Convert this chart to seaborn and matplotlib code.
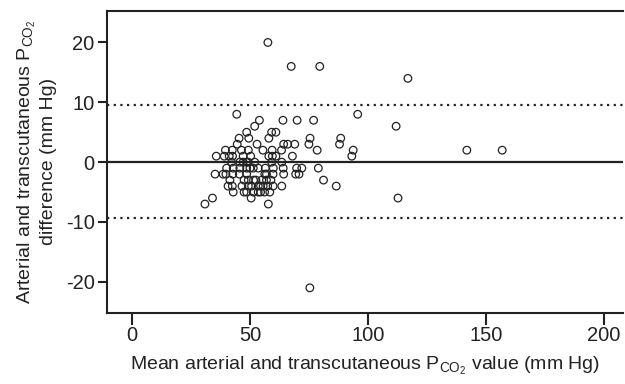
import matplotlib
matplotlib.use("Agg")
import matplotlib.pyplot as plt
import seaborn as sns
import pandas as pd

# values (mean of the two methods, difference)
mean_vals = [
    57.6,
    67.5, 79.6,
    117,
    44.4, 95.7,
    54, 64, 70, 77,
    52, 112,
    48.6, 59.2, 61,
    45.4, 49.5, 58, 75.5, 88.5,
    44.6, 53, 64.3, 66, 69, 75, 88,
    39.6, 42.5, 46.4, 49.3, 55.5, 59.4, 63.4, 78.5, 93.8, 142, 157,
    35.7, 39.1, 41.2, 42.6, 47.1, 50.3, 58, 59.5, 61, 68, 93.2,
    42.2, 45.7, 47.1, 48.6, 49.3, 52, 59.2, 63.5,
    40.1, 42.9, 45.7, 48.6, 50, 51.4, 53.5, 56.5, 59.9, 64.1, 69.8, 72, 79,
    35.2, 38.6, 39.8, 42.7, 45.5, 48.6, 56.3, 57, 59.8, 64.3, 69.4, 70.8,
    41.5, 47.5, 49.3, 51.5, 52.5, 55, 57, 58.9, 81.2,
    40.7, 42.5, 46.6, 49.3, 50.7, 53.5, 54.5, 55.6, 57.5, 59.8, 63.5, 86.6,
    42.9, 47.5, 48.6, 51.4, 53.5, 54.5, 56.2, 58.4,
    34.1, 50.5, 112.8,
    30.9, 57.8,
    75.4,
]
diff_vals = (
    [20]
    + [16] * 2
    + [14]
    + [8] * 2
    + [7] * 4
    + [6] * 2
    + [5] * 3
    + [4] * 5
    + [3] * 7
    + [2] * 11
    + [1] * 11
    + [0] * 8
    + [-1] * 13
    + [-2] * 12
    + [-3] * 9
    + [-4] * 12
    + [-5] * 8
    + [-6] * 3
    + [-7] * 2
    + [-21]
)
bias = 0
upper_loa = 9.6
lower_loa = -9.4

df = pd.DataFrame({"mean": mean_vals, "diff": diff_vals})

sns.set_style("ticks")
plt.rcParams["font.family"] = ["Liberation Sans", "DejaVu Sans"]
plt.rcParams["mathtext.fontset"] = "custom"
plt.rcParams["mathtext.rm"] = "Liberation Sans"
plt.rcParams["mathtext.it"] = "Liberation Sans"
plt.rcParams["axes.unicode_minus"] = False

fig = plt.figure(figsize=(6.25, 3.84), dpi=100)
ax = fig.add_axes([0.171, 0.185, 0.826, 0.787])

ax.axhline(bias, color="#222222", lw=1.6, zorder=1)
ax.axhline(upper_loa, color="#222222", lw=1.6, ls=(0, (1, 2)), zorder=1)
ax.axhline(lower_loa, color="#222222", lw=1.6, ls=(0, (1, 2)), zorder=1)

sns.scatterplot(data=df, x="mean", y="diff", ax=ax, marker="o", s=30,
                facecolors="none", edgecolors="#222222", linewidths=0.9,
                zorder=3)

ax.set_xlim(-10.7, 208.3)
ax.set_ylim(-25.2, 25.3)
ax.set_xticks([0, 50, 100, 150, 200])
ax.set_yticks([-20, -10, 0, 10, 20])

ax.set_xlabel(r"Mean arterial and transcutaneous P$_{\mathregular{CO_2}}$ value (mm Hg)",
              fontsize=14, color="#222222", labelpad=7)
ax.set_ylabel("Arterial and transcutaneous P$_{\\mathregular{CO_2}}$\ndifference (mm Hg)",
              fontsize=14, color="#222222", labelpad=6)

ax.spines["right"].set_visible(False)
for side in ["left", "top", "bottom"]:
    ax.spines[side].set_linewidth(1.5)
    ax.spines[side].set_color("#222222")
ax.tick_params(axis="both", width=1.5, colors="#222222", labelsize=14.5)
ax.tick_params(axis="x", length=8.5, pad=1)
ax.tick_params(axis="y", length=6.8, pad=2)

fig.savefig("out.png", dpi=100)
